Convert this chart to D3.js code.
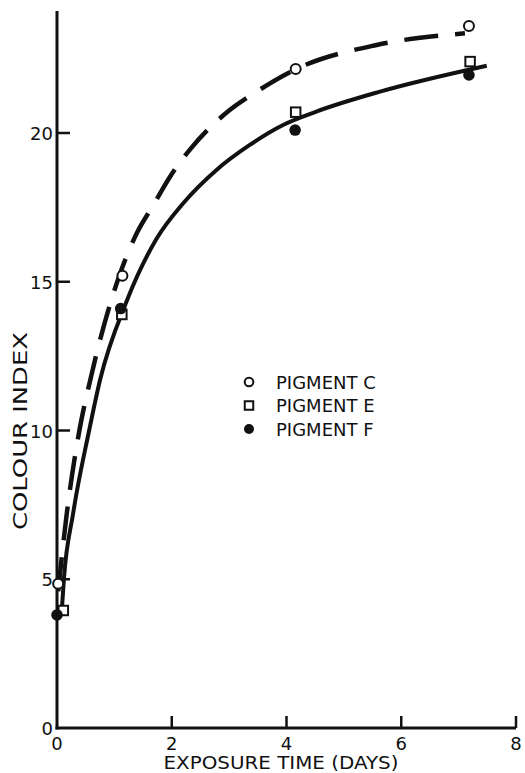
<!DOCTYPE html>
<html>
<head>
<meta charset="utf-8">
<script src="https://cdn.jsdelivr.net/npm/d3@7"></script>
<style>
  html, body { margin: 0; padding: 0; background: #fff; }
  svg { display: block; }
  text { font-family: "DejaVu Sans", sans-serif; fill: #111; }
</style>
</head>
<body>
<svg id="chart" width="525" height="773"></svg>
<script>
// Colour index of pigments against exposure time
const xTicks = [2, 4, 6, 8];
const xTickLabels = ["0", "2", "4", "6", "8"];
const yTicks = [5, 10, 15, 20];
const yTickLabels = ["0", "5", "10", "15", "20"];

const daysC = [0.02, 1.14, 4.16, 7.18];
const pigmentC = [4.85, 15.2, 22.15, 23.6];
const daysE = [0.11, 1.13, 4.16, 7.2];
const pigmentE = [3.95, 13.9, 20.7, 22.4];
const daysF = [0.0, 1.11, 4.15, 7.18];
const pigmentF = [3.8, 14.1, 20.1, 21.95];

// Hand-drawn fitted curves (day, colour index)
const curveDashedDays = [0.02, 0.17, 0.39, 0.58, 1.10, 1.39, 1.68, 1.97, 2.32, 3.01, 3.48, 4.16, 5.57, 7.11];
const curveDashedVals = [4.6, 7.2, 10.0, 11.7, 15.28, 16.63, 17.58, 18.53, 19.45, 20.77, 21.39, 22.14, 22.96, 23.35];
const curveSolidDays = [0.08, 0.12, 0.28, 0.56, 0.75, 1.21, 1.74, 2.20, 2.78, 3.36, 3.94, 4.52, 5.63, 7.49];
const curveSolidVals = [3.85, 5.0, 7.2, 10.0, 11.7, 14.33, 16.46, 17.64, 18.76, 19.6, 20.27, 20.72, 21.39, 22.26];

const legendLabels = ["PIGMENT C", "PIGMENT E", "PIGMENT F"];

const svg = d3.select("#chart");
const x = d3.scaleLinear().domain([0, 8]).range([57, 516]);
const y = d3.scaleLinear().domain([0, 20]).range([728, 133]);
const ink = "#111";

// axes
svg.append("line")
  .attr("x1", x(0)).attr("x2", x(0)).attr("y1", y(0) + 1.5).attr("y2", y(24.1))
  .attr("stroke", ink).attr("stroke-width", 3);
svg.append("line")
  .attr("x1", x(0) - 1.5).attr("x2", x(8)).attr("y1", y(0)).attr("y2", y(0))
  .attr("stroke", ink).attr("stroke-width", 3);

// y ticks point inward
svg.selectAll(".ytick").data(yTicks).enter().append("line")
  .attr("x1", x(0)).attr("x2", x(0) + 13)
  .attr("y1", d => y(d)).attr("y2", d => y(d))
  .attr("stroke", ink).attr("stroke-width", 2.5);
svg.selectAll(".ylab").data([0].concat(yTicks)).enter().append("text")
  .attr("x", x(0) - 4).attr("y", d => y(d) + 7)
  .attr("text-anchor", "end").attr("font-size", 18)
  .text((d, i) => yTickLabels[i]);

// x ticks point upward
svg.selectAll(".xtick").data(xTicks).enter().append("line")
  .attr("x1", d => x(d)).attr("x2", d => x(d))
  .attr("y1", y(0)).attr("y2", y(0) - 12)
  .attr("stroke", ink).attr("stroke-width", 2.5);
svg.selectAll(".xlab").data([0].concat(xTicks)).enter().append("text")
  .attr("x", d => x(d)).attr("y", 750)
  .attr("text-anchor", "middle").attr("font-size", 18)
  .text((d, i) => xTickLabels[i]);

// axis titles
svg.append("text")
  .attr("x", 281).attr("y", 769).attr("text-anchor", "middle")
  .attr("font-size", 17).attr("textLength", 235).attr("lengthAdjust", "spacingAndGlyphs")
  .text("EXPOSURE TIME (DAYS)");
svg.append("text")
  .attr("transform", "translate(27,431) rotate(-90)")
  .attr("text-anchor", "middle").attr("font-size", 19)
  .attr("textLength", 198).attr("lengthAdjust", "spacingAndGlyphs")
  .text("COLOUR INDEX");

// fitted curves
const line = d3.line().x(d => x(d[0])).y(d => y(d[1])).curve(d3.curveMonotoneX);
svg.append("path")
  .attr("d", line(d3.zip(curveDashedDays, curveDashedVals)))
  .attr("fill", "none").attr("stroke", ink).attr("stroke-width", 4.5)
  .attr("stroke-dasharray", "34,17");
svg.append("path")
  .attr("d", line(d3.zip(curveSolidDays, curveSolidVals)))
  .attr("fill", "none").attr("stroke", ink).attr("stroke-width", 4);

// markers
const drawOpenCircle = (g, cx, cy, r) => g.append("circle")
  .attr("cx", cx).attr("cy", cy).attr("r", r)
  .attr("fill", "#fff").attr("stroke", ink).attr("stroke-width", 2);
const drawSquare = (g, cx, cy, s) => g.append("rect")
  .attr("x", cx - s / 2).attr("y", cy - s / 2).attr("width", s).attr("height", s)
  .attr("fill", "#fff").attr("stroke", ink).attr("stroke-width", 2);
const drawDot = (g, cx, cy, r) => g.append("circle")
  .attr("cx", cx).attr("cy", cy).attr("r", r).attr("fill", ink);

const pts = svg.append("g");
daysE.forEach((d, i) => drawSquare(pts, x(d), y(pigmentE[i]), 9.5));
daysF.forEach((d, i) => drawDot(pts, x(d), y(pigmentF[i]), 5.8));
daysC.forEach((d, i) => drawOpenCircle(pts, x(d), y(pigmentC[i]), 5));

// legend
const legend = svg.append("g");
const lx = 249, ly0 = 382, ldy = 23.5;
drawOpenCircle(legend, lx, ly0, 4.3);
drawSquare(legend, lx, ly0 + ldy, 8.5);
drawDot(legend, lx, ly0 + 2 * ldy, 5);
legend.selectAll("text").data(legendLabels).enter().append("text")
  .attr("x", 276).attr("y", (d, i) => ly0 + 6.5 + i * ldy)
  .attr("font-size", 18)
  .text(d => d);
</script>
</body>
</html>
